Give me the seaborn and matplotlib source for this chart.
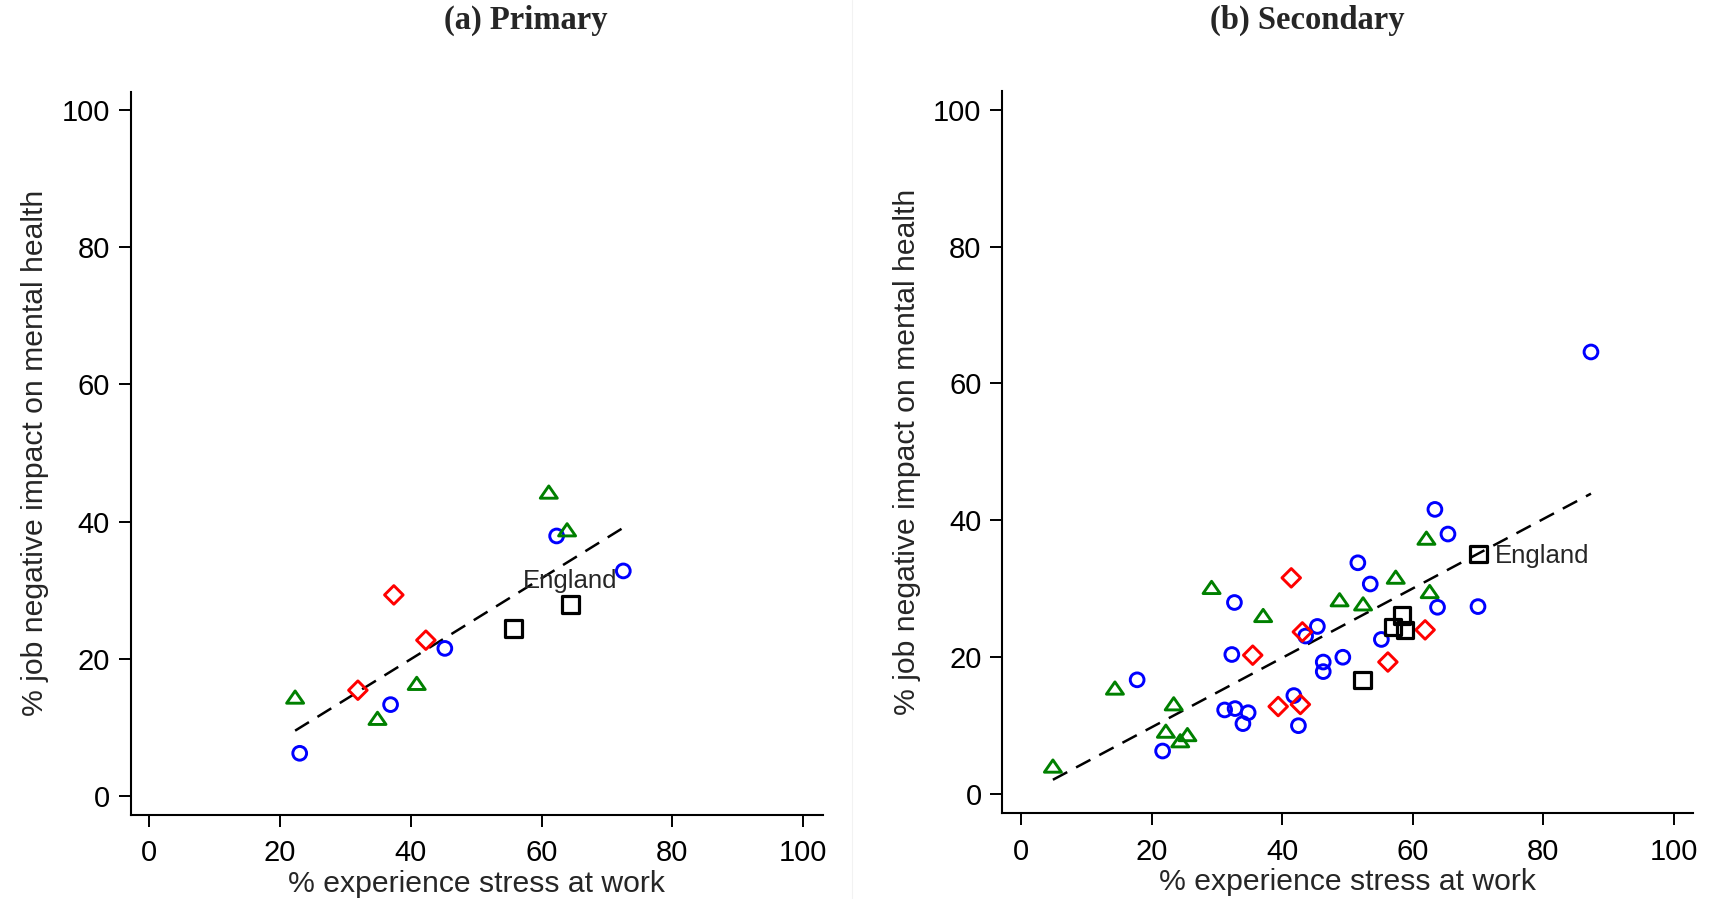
import matplotlib
matplotlib.use("Agg")
import matplotlib.pyplot as plt
import seaborn as sns
from matplotlib.lines import Line2D
from matplotlib.path import Path

# ---------------- data ----------------
# (a) Primary
prim_circle_x = [23.0, 36.9, 45.2, 62.3, 72.5]
prim_circle_y = [6.2, 13.3, 21.5, 37.9, 32.8]
prim_tri_x = [22.3, 34.9, 40.9, 61.1, 63.9]
prim_tri_y = [14.4, 11.3, 16.4, 44.3, 38.8]
prim_dia_x = [31.9, 37.4, 42.3]
prim_dia_y = [15.4, 29.3, 22.7]
prim_sq_x = [55.7, 64.4]
prim_sq_y = [24.4, 27.9]
prim_fit_x = [22.3, 72.5]
prim_fit_y = [9.5, 39.1]
prim_england = [64.4, 27.9]

# (b) Secondary
sec_circle_x = [17.8, 21.7, 32.7, 32.3, 31.2, 32.8, 34.8, 34.0, 41.8, 42.5, 45.4, 43.6,
                46.3, 46.3, 49.3, 51.6, 53.5, 55.2, 63.4, 65.4, 63.8, 70.0, 87.3]
sec_circle_y = [16.7, 6.3, 28.0, 20.4, 12.3, 12.5, 11.9, 10.3, 14.4, 10.0, 24.5, 23.1,
                19.3, 17.9, 20.0, 33.8, 30.7, 22.6, 41.6, 38.0, 27.3, 27.4, 64.6]
sec_tri_x = [4.9, 14.4, 23.4, 22.2, 25.5, 24.4, 29.2, 37.1, 48.8, 52.4, 57.4, 62.1, 62.6]
sec_tri_y = [4.1, 15.5, 13.2, 9.2, 8.7, 7.8, 30.2, 26.1, 28.4, 27.8, 31.7, 37.4, 29.6]
sec_dia_x = [41.4, 43.1, 35.5, 39.4, 42.8, 56.2, 61.9]
sec_dia_y = [31.6, 23.7, 20.3, 12.8, 13.1, 19.3, 24.0]
sec_sq_x = [52.3, 58.4, 57.0, 58.8, 70.1]
sec_sq_y = [16.7, 26.1, 24.4, 24.0, 35.1]
sec_fit_x = [4.9, 87.3]
sec_fit_y = [2.1, 43.9]
sec_england = [70.1, 35.1]

ticks = [0, 20, 40, 60, 80, 100]
tick_labels = ["0", "20", "40", "60", "80", "100"]
titles = ["(a) Primary", "(b) Secondary"]
xlabel = "% experience stress at work"
ylabel = "% job negative impact on mental health"
england_label = "England"

# ---------------- style ----------------
sns.set_style("ticks")
plt.rcParams["font.family"] = ["Liberation Sans", "DejaVu Sans"]

BLUE = "#0000ff"
GREEN = "#008000"
RED = "#ff0000"
BLACK = "#000000"
TRI = Path([(-1, -0.72), (1, -0.72), (0, 0.72), (0, 0)], closed=True)

fig = plt.figure(figsize=(17.2, 8.99), dpi=100)
ax1 = fig.add_axes([0.07599, 0.09344, 0.40233, 0.80456])
ax2 = fig.add_axes([0.58273, 0.09533, 0.40186, 0.80323])


def hollow(ax, x, y, marker, color, s, lw):
    sns.scatterplot(x=x, y=y, ax=ax, marker=marker, s=s, color=color,
                    facecolor="none", edgecolor=color, linewidth=lw,
                    legend=False, zorder=3)


def panel(ax, cx, cy, tx, ty, dx, dy, sx, sy, fx, fy):
    sns.lineplot(x=fx, y=fy, ax=ax, color="black", lw=1.8, estimator=None,
                 linestyle=(0, (6.5, 4.0)), zorder=2)
    hollow(ax, cx, cy, "o", BLUE, 98, 2.1)
    hollow(ax, tx, ty, TRI, GREEN, 150, 2.1)
    hollow(ax, dx, dy, "D", RED, 90, 2.1)
    hollow(ax, sx, sy, "s", BLACK, 140, 2.3)
    ax.set_xlim(-2.85, 103)
    ax.set_ylim(-2.8, 102.7)
    ax.set_xticks(ticks)
    ax.set_xticklabels(tick_labels)
    ax.set_yticks(ticks)
    ax.set_yticklabels(tick_labels)
    ax.tick_params(axis="both", direction="out", length=8.6, width=1.4,
                   labelsize=21, color="black", labelcolor="black")
    ax.tick_params(axis="x", pad=9)
    ax.tick_params(axis="y", pad=6.3)
    ax.set_xlabel(xlabel, fontsize=21.7, labelpad=1.5)
    ax.set_ylabel(ylabel, fontsize=21.7, labelpad=9)
    sns.despine(ax=ax)
    for sp in ("left", "bottom"):
        ax.spines[sp].set_linewidth(1.5)
        ax.spines[sp].set_color("black")
    ax.grid(False)


panel(ax1, prim_circle_x, prim_circle_y, prim_tri_x, prim_tri_y,
      prim_dia_x, prim_dia_y, prim_sq_x, prim_sq_y, prim_fit_x, prim_fit_y)
panel(ax2, sec_circle_x, sec_circle_y, sec_tri_x, sec_tri_y,
      sec_dia_x, sec_dia_y, sec_sq_x, sec_sq_y, sec_fit_x, sec_fit_y)

ax1.annotate(england_label, xy=(prim_england[0], prim_england[1]), xytext=(0, 16.8),
             textcoords="offset points", ha="center", va="center", fontsize=18.5, zorder=4)
ax2.annotate(england_label, xy=(sec_england[0], sec_england[1]), xytext=(11.7, -1.4),
             textcoords="offset points", ha="left", va="center", fontsize=18.5, zorder=4)

fig.text(526 / 1720, 1 - 20.8 / 899, titles[0], ha="center", va="center",
         fontsize=23.5, fontweight="bold", family=["Liberation Serif", "DejaVu Serif"])
fig.text(1307 / 1720, 1 - 20.8 / 899, titles[1], ha="center", va="center",
         fontsize=23.5, fontweight="bold", family=["Liberation Serif", "DejaVu Serif"])

fig.add_artist(Line2D([852 / 1720, 852 / 1720], [0, 1], transform=fig.transFigure,
                      color="#f2f2f2", lw=0.8))

fig.savefig("out.png", dpi=100)
